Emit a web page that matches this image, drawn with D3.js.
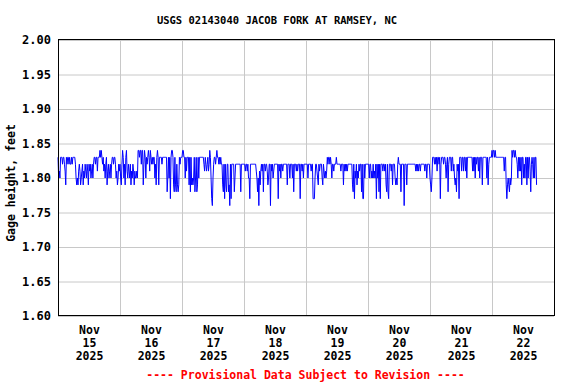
<!DOCTYPE html>
<html>
<head>
<meta charset="utf-8">
<script src="https://cdn.jsdelivr.net/npm/d3@7"></script>
<style>
  body { margin: 0; background: #fff; }
  svg text { font-family: 'DejaVu Sans Mono', 'Liberation Mono', monospace; font-weight: bold; }
</style>
</head>
<body>
<div id="chart"></div>
<script>
const TITLE = 'USGS 02143040 JACOB FORK AT RAMSEY, NC'
const Y_LABEL = 'Gage height, feet'
const FOOTER = '---- Provisional Data Subject to Revision ----'

// one entry per day shown on the x axis
const days = ['2025-11-15', '2025-11-16', '2025-11-17', '2025-11-18', '2025-11-19', '2025-11-20', '2025-11-21', '2025-11-22']
const dayLabels = [['Nov', '15', '2025'], ['Nov', '16', '2025'], ['Nov', '17', '2025'], ['Nov', '18', '2025'],
  ['Nov', '19', '2025'], ['Nov', '20', '2025'], ['Nov', '21', '2025'], ['Nov', '22', '2025']]
const yTicks = [1.60, 1.65, 1.70, 1.75, 1.80, 1.85, 1.90, 1.95, 2.00]

// 15-minute gage readings, one string per day starting at midnight.
// each digit = hundredths of a foot above 1.76 ft (0 -> 1.76, 8 -> 1.84); spaces are only for grouping
const BASE_FT = 1.76
const STEP_MIN = 15
const readings = [
  '74547 77677 653 767767667677 776 4343 5653 45635465465365 645646 776775777 8787 67564673 5645646 776776 453465',
  '64368 74637854 6546354653 54454 88788688 3687 4767875 876767 74637 87 3777767777777 2474 717 88 73273263237677',
  '788774 75777 37273 434724 7237477 77777 6576567 56874 1046 7767877 67676 63261632662306 1666 6246666666626666',
  '665665644 166 6666666 54240535 656 2 665665 346 606 564566 66661 65646656666 6636664666 4626665 65666 1 66564666',
  '66646666566 11146 6543656 66436 54545 767767 64665666 766 666656663656 565 6666666 32615 46354656 62611 646666',
  '66466 45464546 16462 6166 65665 6326216 66563666 43436 766 626666 06663 6666666666666 5656566566 666656646666',
  '4324 7776 7675 7767167 77677 646 72677 75775 64342 6561 77757 757757 47 7777777575 74767 75747 77377 77774 7367777',
  '87887877 7777777777 75773 13 432434 8788787 76475 75737 74647 73747 75267 6474773'
]

const dimensions = {
  width: 576,
  height: 384,
  margin: { top: 40, right: 22, bottom: 68, left: 58 }
}
const innerW = dimensions.width - dimensions.margin.left - dimensions.margin.right
const innerH = dimensions.height - dimensions.margin.top - dimensions.margin.bottom

const parseDay = d3.utcParse('%Y-%m-%d')
const series = []
days.forEach((day, i) => {
  const start = parseDay(day)
  readings[i].replace(/\s/g, '').split('').forEach((c, j) => {
    series.push({ date: d3.utcMinute.offset(start, j * STEP_MIN), value: BASE_FT + (+c) / 100 })
  })
})

const dayStarts = days.map(parseDay)
const xScale = d3.scaleUtc()
  .domain([dayStarts[0], d3.utcDay.offset(dayStarts[dayStarts.length - 1], 1)])
  .range([0, innerW])
const yScale = d3.scaleLinear()
  .domain([1.6, 2.0])
  .range([innerH, 0])

const svg = d3.select('#chart').append('svg')
  .attr('width', dimensions.width)
  .attr('height', dimensions.height)

const bounds = svg.append('g')
  .attr('transform', `translate(${dimensions.margin.left}, ${dimensions.margin.top})`)

// grid
bounds.append('g')
  .call(d3.axisLeft(yScale).tickValues(yTicks).tickSize(-innerW).tickFormat(''))
  .call(g => g.select('.domain').remove())
  .call(g => g.selectAll('line').attr('stroke', '#c8c8c8'))
bounds.append('g')
  .attr('transform', `translate(0, ${innerH})`)
  .call(d3.axisBottom(xScale).tickValues(dayStarts.slice(1)).tickSize(-innerH).tickFormat(''))
  .call(g => g.select('.domain').remove())
  .call(g => g.selectAll('line').attr('stroke', '#c8c8c8'))

// data line
bounds.append('path')
  .datum(series)
  .attr('fill', 'none')
  .attr('stroke', '#0000ff')
  .attr('stroke-width', 1)
  .attr('d', d3.line().x(d => xScale(d.date)).y(d => yScale(d.value)))

// frame
bounds.append('rect')
  .attr('x', 0.5)
  .attr('y', -0.5)
  .attr('width', innerW)
  .attr('height', innerH)
  .attr('fill', 'none')
  .attr('stroke', '#000')
  .attr('stroke-width', 1)

// y axis labels
bounds.append('g')
  .call(d3.axisLeft(yScale).tickValues(yTicks).tickSize(0).tickPadding(7).tickFormat(d3.format('.2f')))
  .call(g => g.select('.domain').remove())
  .call(g => g.selectAll('text').attr('font-size', 12).attr('fill', '#000')
    .style('font-family', "'DejaVu Sans Mono', monospace").style('font-weight', 'bold'))

// x axis labels at noon of each day
const noon = dayStarts.map(d => d3.utcHour.offset(d, 12))
const xAxisContainer = bounds.append('g')
  .attr('transform', `translate(0, ${innerH})`)
  .call(d3.axisBottom(xScale).tickValues(noon).tickSize(0).tickFormat(''))
xAxisContainer.select('.domain').remove()
xAxisContainer.selectAll('.tick text').each(function (d, i) {
  const t = d3.select(this)
    .attr('y', 0)
    .attr('dy', null)
    .attr('font-size', 11.5)
    .attr('fill', '#000')
    .style('font-family', "'DejaVu Sans Mono', monospace")
    .style('font-weight', 'bold')
  dayLabels[i].forEach((s, k) => {
    t.append('tspan').attr('x', 0).attr('y', 18 + k * 13).text(s)
  })
})

// titles
svg.append('text')
  .attr('x', 277)
  .attr('y', 24)
  .attr('text-anchor', 'middle')
  .attr('font-size', 10.5)
  .text(TITLE)

svg.append('text')
  .attr('transform', 'translate(15, 183) rotate(-90)')
  .attr('text-anchor', 'middle')
  .attr('font-size', 11.5)
  .text(Y_LABEL)

svg.append('text')
  .attr('x', 305.5)
  .attr('y', 379)
  .attr('text-anchor', 'middle')
  .attr('font-size', 11.5)
  .attr('fill', '#ff0000')
  .text(FOOTER)
</script>
</body>
</html>
